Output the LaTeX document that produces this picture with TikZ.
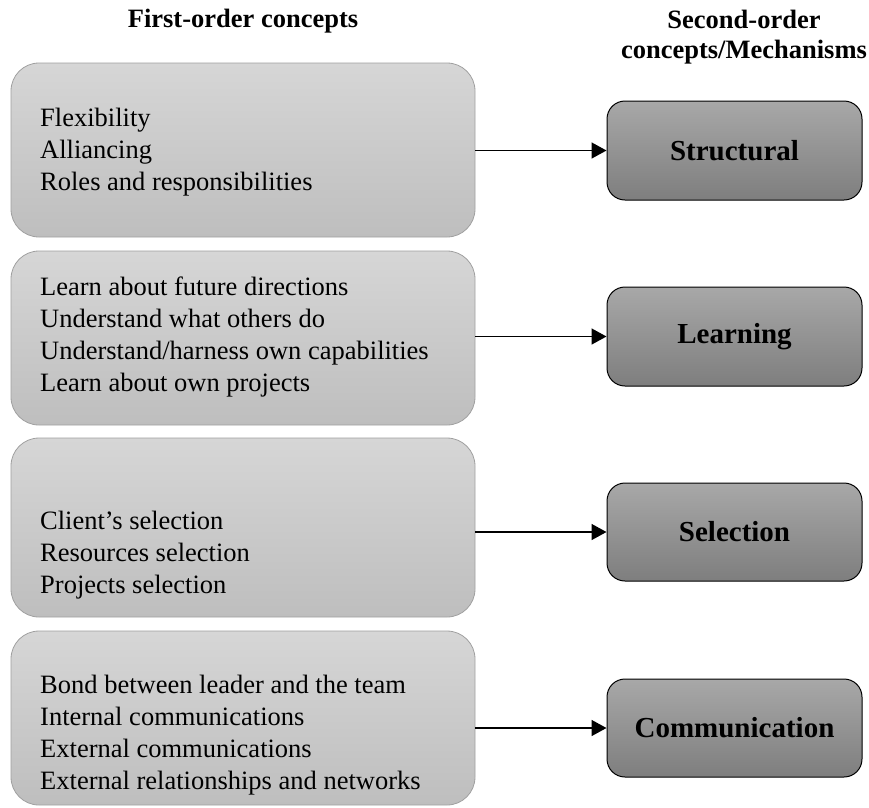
\documentclass[tikz,border=0pt]{standalone}
\usepackage{fontspec}
\setmainfont{Liberation Serif}
\usetikzlibrary{arrows.meta,calc}
\definecolor{ltop}{RGB}{214,214,214}
\definecolor{lbot}{RGB}{190,190,190}
\definecolor{lbord}{RGB}{160,160,160}
\definecolor{rtop}{RGB}{168,168,168}
\definecolor{rbot}{RGB}{126,126,126}
\tikzset{
  lbox/.style={draw=lbord, line width=0.8pt, rounded corners=28pt, top color=ltop, bottom color=lbot},
  rbox/.style={draw=black, line width=1pt, rounded corners=18pt, top color=rtop, bottom color=rbot,
    font=\fontsize{29}{32}\selectfont\bfseries},
  ltext/.style={anchor=west, align=left, inner sep=0pt, font=\fontsize{26.5}{32}\selectfont},
  head/.style={align=center, inner sep=0pt, font=\fontsize{26.5}{30}\selectfont\bfseries},
  conn/.style={line width=1.6pt, -{Triangle[length=15pt,width=16pt]}}
}
\begin{document}
\begin{tikzpicture}[x=1pt,y=-1pt]
\useasboundingbox (0,0) rectangle (869,807);
\node[head] (h1) at (243,21) {First-order concepts};
\node[head] (h2) at (744,37) {Second-order\\concepts/Mechanisms};

% left boxes
\path[lbox] (11,63) rectangle (475,237);
\node[inner sep=0pt, minimum width=464pt, minimum height=174pt] (l1) at (243,150) {};
\path[lbox] (11,251) rectangle (475,425);
\node[inner sep=0pt, minimum width=464pt, minimum height=174pt] (l2) at (243,338) {};
\path[lbox] (11,438) rectangle (475,617);
\node[inner sep=0pt, minimum width=464pt, minimum height=179pt] (l3) at (243,527.5) {};
\path[lbox] (11,631) rectangle (475,805);
\node[inner sep=0pt, minimum width=464pt, minimum height=174pt] (l4) at (243,718) {};

\node[ltext] (t1) at (40,152) {Flexibility\\Alliancing\\Roles and responsibilities};
\node[ltext] (t2) at (40,337) {Learn about future directions\\Understand what others do\\Understand/harness own capabilities\\Learn about own projects};
\node[ltext] (t3) at (40,555.5) {Client’s selection\\Resources selection\\Projects selection};
\node[ltext] (t4) at (40,735) {Bond between leader and the team\\Internal communications\\External communications\\External relationships and networks};

% right boxes
\node[rbox, minimum width=255pt, minimum height=99pt] (r1) at (734.5,150.5) {Structural};
\node[rbox, minimum width=255pt, minimum height=99pt] (r2) at (734.5,336.5) {Learning};
\node[rbox, minimum width=255pt, minimum height=98pt] (r3) at (734.5,532) {Selection};
\node[rbox, minimum width=255pt, minimum height=98pt] (r4) at (734.5,728) {Communication};

\draw[conn] (l1.east |- r1.west) -- (r1.west);
\draw[conn] (l2.east |- r2.west) -- (r2.west);
\draw[conn] (l3.east |- r3.west) -- (r3.west);
\draw[conn] (l4.east |- r4.west) -- (r4.west);
\end{tikzpicture}
\end{document}
